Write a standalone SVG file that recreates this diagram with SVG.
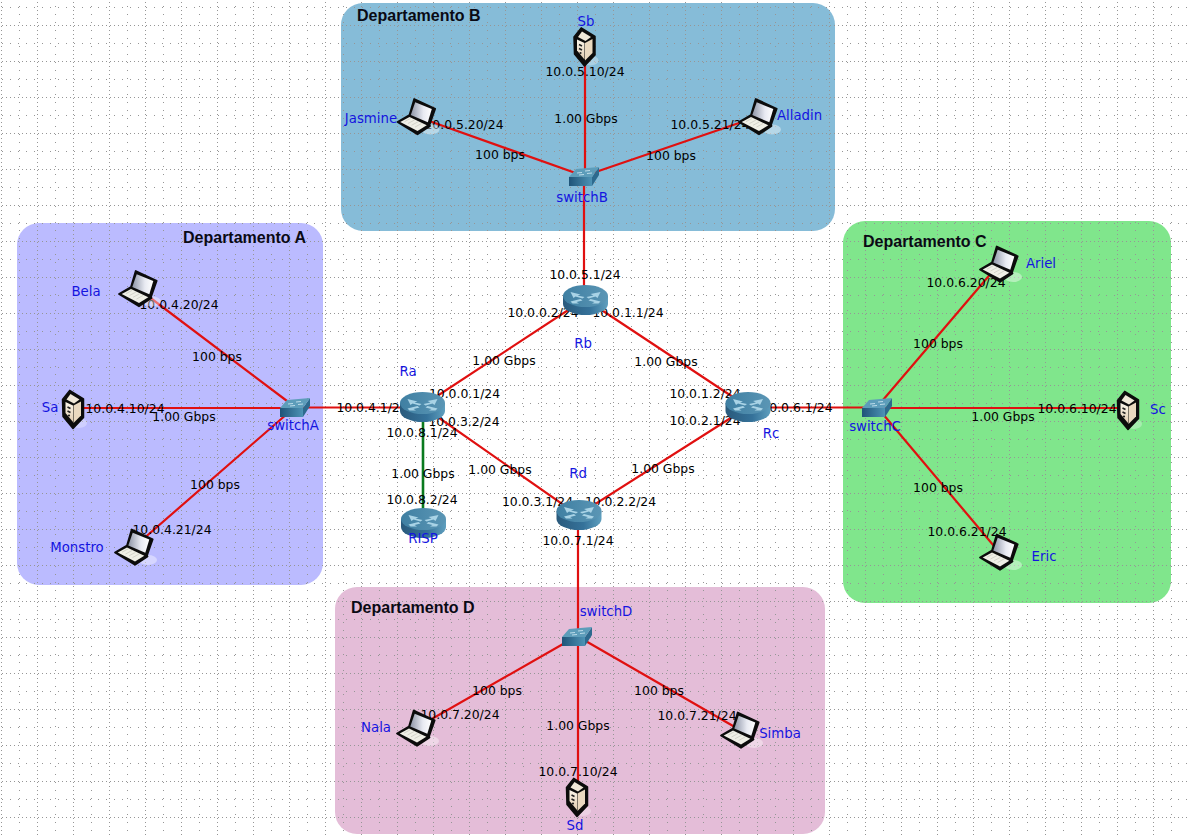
<svg xmlns="http://www.w3.org/2000/svg" width="1187" height="835" viewBox="0 0 1187 835">
<style>
text{font-family:"DejaVu Sans",sans-serif;font-size:12.4px;text-anchor:middle;fill:#000}
text.n{fill:#1414e0;font-size:13.3px}
text.t{font-family:"Liberation Sans",Arial,sans-serif;font-size:16px;font-weight:bold;text-anchor:start;fill:#0a0a14}
.l{stroke:#e01010;stroke-width:2.2;fill:none}
.g{stroke:#0a7a1e;stroke-width:2.6;fill:none}
</style>
<defs>
<pattern id="p1" width="18" height="8" patternUnits="userSpaceOnUse"><rect x="1" y="6" width="1" height="1" fill="#969696"/></pattern>
<pattern id="p2" width="8" height="18" patternUnits="userSpaceOnUse"><rect x="2" y="7" width="1" height="1" fill="#969696"/></pattern>
<pattern id="p3" width="4" height="36" patternUnits="userSpaceOnUse"><rect x="2" y="25" width="1" height="1" fill="#969696"/></pattern>
<pattern id="p4" width="36" height="4" patternUnits="userSpaceOnUse"><rect x="1" y="2" width="1" height="1" fill="#969696"/></pattern>
<linearGradient id="rb" x1="0" x2="1" y1="0" y2="0"><stop offset="0" stop-color="#2a5a7c"/><stop offset="0.6" stop-color="#35729a"/><stop offset="1" stop-color="#5f9fbe"/></linearGradient>
<linearGradient id="rt" x1="0" x2="1" y1="0" y2="0"><stop offset="0" stop-color="#3f7fa2"/><stop offset="1" stop-color="#5b96b5"/></linearGradient>
<linearGradient id="sf" x1="0" x2="1" y1="0" y2="0"><stop offset="0" stop-color="#1f5478"/><stop offset="1" stop-color="#4d93b5"/></linearGradient>
<linearGradient id="sc" x1="0" x2="0" y1="0" y2="1"><stop offset="0" stop-color="#fbf6ea"/><stop offset="1" stop-color="#e2cdb2"/></linearGradient>
<linearGradient id="scr" x1="0" x2="1" y1="0" y2="0"><stop offset="0" stop-color="#8f96a8"/><stop offset=".6" stop-color="#e8eaf2"/><stop offset="1" stop-color="#ffffff"/></linearGradient>
<g id="router">
<path d="M-22.500-4V4A22.500 11 0 0 0 22.500 4V-4Z" fill="url(#rb)"/>
<ellipse cx="0" cy="-4" rx="22.500" ry="11" fill="url(#rt)"/>
<path d="M-15-8L-5-5.500L-8-4.500L-1-3L-3-1.500L-10-3.500L-12-2Z M15-8L5-6L8-4.500L1-3L3-1.500L10-3.500L12-2Z M-15 1.500L-5-1L-3 .5L-9 2L-6.500 3.500L-13 3.500Z M15 1.500L5-1L3 .5L9 2L6.500 3.500L13 3.500Z" fill="#a9d3e6"/>
</g>
<g id="switch">
<path d="M-15 1H8V10H-15Z" fill="url(#sf)"/>
<path d="M8 1L15-9V-1L8 10Z" fill="#2d6a8e"/>
<path d="M-8-7L15-9L8 1L-15 1Z" fill="#5d9dba"/>
<path d="M-7-3L-2-3.500M1-5L6-5.500M-5-1L0-1.500M3-2.500L8-3" stroke="#bcdcea" stroke-width="1" fill="none"/>
</g>
<g id="server">
<ellipse cx="6" cy="14" rx="8" ry="5" fill="#fff" fill-opacity=".3"/>
<path d="M-3.300-18.600L-10.500-9.600L-10 7.500L0 19.500L10.500 8.500L10.500-10Z" fill="#0c0c0c" stroke="#0c0c0c" stroke-width="1.500" stroke-linejoin="round"/>
<path d="M-2.500-15L-6.500-9.500L1-5.500L6.500-9.500Z" fill="#f0e8d8"/>
<path d="M-7.500-7L0-3.500V13L-7.500 4Z" fill="url(#sc)"/>
<path d="M.5-3.500L8-7.500V6.500L.5 14Z" fill="#ead9c0"/>
<path d="M-5.500-2L-2.500-.5M-5.500 2L-2.500 3.500" stroke="#222" stroke-width="1.600"/>
<circle cx="-4" cy="6.500" r="1.100" fill="#222"/>
</g>
<g id="laptop">
<ellipse cx="14" cy="13" rx="9" ry="5" fill="#fff" fill-opacity=".4"/>
<path d="M-19 5.500L-7-1.500L-2.300-17.500L18.700-7.800L13 8.500L13.500 9.500L1 17.800Z" fill="#0c0c0c" stroke="#0c0c0c" stroke-width="1.800" stroke-linejoin="round"/>
<path d="M-1.300-14.200L15.300-7.500L11.300 5.800L-5.700-1.500Z" fill="url(#scr)"/>
<path d="M-16.300 5.500L-7 .5L10.300 8.800L1 14.500Z" fill="#efefe6"/>
<path d="M-12 5.200L-5.800 1.800M-8.500 7L-2 3.500M-5 8.800L1.500 5.300M-1.500 10.600L5 7" stroke="#c9c9be" stroke-width=".7"/>
</g>
</defs>
<rect width="1187" height="835" fill="#fff"/>
<g id="areas">
<rect x="17" y="223" width="306" height="362" rx="22" fill="#bbbbff"/>
<rect x="341" y="3" width="494" height="228" rx="22" fill="#86bcd8"/>
<rect x="843" y="221" width="328" height="382" rx="22" fill="#80e68c"/>
<rect x="335" y="587" width="490" height="247" rx="22" fill="#e4bdd8"/>
</g>
<g id="grid">
<rect width="1187" height="835" fill="url(#p1)"/>
<rect width="1187" height="835" fill="url(#p2)"/>
<rect width="1187" height="835" fill="url(#p3)"/>
<rect width="1187" height="835" fill="url(#p4)"/>
</g>
<g id="connectors">
<path class="l" d="M138 288.500L295 407M73 408H295M134 547L295 407M295 407.500H422"/>
<path class="l" d="M416.500 116.500L584 176M585 46V176M758 116.500L584 176M584 176V299"/>
<path class="l" d="M422 406L585 299M585 299L748 407M422 406L578 515M578 515L748 407M748 407.500H877"/>
<path class="l" d="M877 407L999 264M877 408H1128M877 407L999 552"/>
<path class="l" d="M578 515V636M577 636L416 728M578 636V796M577 636L740 730"/>
<path class="g" d="M423 406V523"/>
</g>
<g id="link-labels">
<text x="585" y="76">10.0.5.10/24</text><text x="586" y="123">1.00 Gbps</text><text x="500" y="159">100 bps</text><text x="671" y="160">100 bps</text><text x="464" y="129">10.0.5.20/24</text><text x="710" y="129">10.0.5.21/24</text>
<text x="585" y="279">10.0.5.1/24</text><text x="543" y="317">10.0.0.2/24</text><text x="628" y="317">10.0.1.1/24</text><text x="504" y="365">1.00 Gbps</text><text x="666" y="366">1.00 Gbps</text>
<text x="464.500" y="397.500">10.0.0.1/24</text><text x="464" y="425.500">10.0.3.2/24</text><text x="422" y="436.500">10.0.8.1/24</text><text x="423" y="477.500">1.00 Gbps</text><text x="422" y="504">10.0.8.2/24</text><text x="500" y="474">1.00 Gbps</text><text x="537.500" y="506">10.0.3.1/24</text><text x="620.500" y="506">10.0.2.2/24</text><text x="578" y="545">10.0.7.1/24</text><text x="663" y="473">1.00 Gbps</text>
<text x="705" y="398">10.0.1.2/24</text><text x="705" y="425">10.0.2.1/24</text><text x="797" y="412">10.0.6.1/24</text><text x="372" y="412">10.0.4.1/24</text>
<text x="179" y="309">10.0.4.20/24</text><text x="217" y="361">100 bps</text><text x="125" y="413">10.0.4.10/24</text><text x="184" y="421">1.00 Gbps</text><text x="215" y="489">100 bps</text><text x="172" y="534">10.0.4.21/24</text>
<text x="966" y="287">10.0.6.20/24</text><text x="938" y="348">100 bps</text><text x="1003" y="421">1.00 Gbps</text><text x="1077" y="413">10.0.6.10/24</text><text x="938" y="492">100 bps</text><text x="967" y="536">10.0.6.21/24</text>
<text x="497" y="695">100 bps</text><text x="659" y="695">100 bps</text><text x="578" y="730">1.00 Gbps</text><text x="460" y="719">10.0.7.20/24</text><text x="697" y="720">10.0.7.21/24</text><text x="578" y="776">10.0.7.10/24</text>
</g>
<g id="Ra"><use href="#router" x="422.500" y="407"/><text class="n" x="408" y="376">Ra</text></g>
<g id="Rb"><use href="#router" x="585.500" y="300"/><text class="n" x="583" y="348">Rb</text></g>
<g id="Rc"><use href="#router" x="748" y="407"/><text class="n" x="771" y="438">Rc</text></g>
<g id="Rd"><use href="#router" x="579" y="515"/><text class="n" x="578" y="478">Rd</text></g>
<g id="RISP"><use href="#router" x="423.500" y="523"/><text class="n" x="423" y="543">RISP</text></g>
<g id="switchA"><use href="#switch" x="295" y="407"/><text class="n" x="293" y="430">switchA</text></g>
<g id="switchB"><use href="#switch" x="584" y="176"/><text class="n" x="582" y="202">switchB</text></g>
<g id="switchC"><use href="#switch" x="877" y="407"/><text class="n" x="875" y="431">switchC</text></g>
<g id="switchD"><use href="#switch" x="577" y="636"/><text class="n" x="606" y="616">switchD</text></g>
<g id="Sa"><use href="#server" x="73" y="409"/><text class="n" x="50" y="412">Sa</text></g>
<g id="Sb"><use href="#server" x="584.500" y="46.500"/><text class="n" x="586" y="26">Sb</text></g>
<g id="Sc"><use href="#server" x="1128" y="410"/><text class="n" x="1158" y="414">Sc</text></g>
<g id="Sd"><use href="#server" x="577" y="797"/><text class="n" x="575" y="830">Sd</text></g>
<g id="Bela"><use href="#laptop" x="138" y="288.500"/><text class="n" x="86" y="296">Bela</text></g>
<g id="Monstro"><use href="#laptop" x="134" y="547"/><text class="n" x="77" y="552">Monstro</text></g>
<g id="Jasmine"><use href="#laptop" x="416.500" y="116.500"/><text class="n" x="371" y="123">Jasmine</text></g>
<g id="Alladin"><use href="#laptop" x="758" y="116.500"/><text class="n" x="799.500" y="120">Alladin</text></g>
<g id="Ariel"><use href="#laptop" x="999" y="264"/><text class="n" x="1041" y="268">Ariel</text></g>
<g id="Eric"><use href="#laptop" x="999" y="552"/><text class="n" x="1044" y="561">Eric</text></g>
<g id="Nala"><use href="#laptop" x="416" y="728"/><text class="n" x="376" y="732">Nala</text></g>
<g id="Simba"><use href="#laptop" x="740" y="730"/><text class="n" x="780" y="738">Simba</text></g>
<g id="titles">
<text class="t" x="183" y="243">Departamento A</text>
<text class="t" x="357" y="21">Departamento B</text>
<text class="t" x="863" y="247">Departamento C</text>
<text class="t" x="351" y="613">Departamento D</text>
</g>
</svg>
